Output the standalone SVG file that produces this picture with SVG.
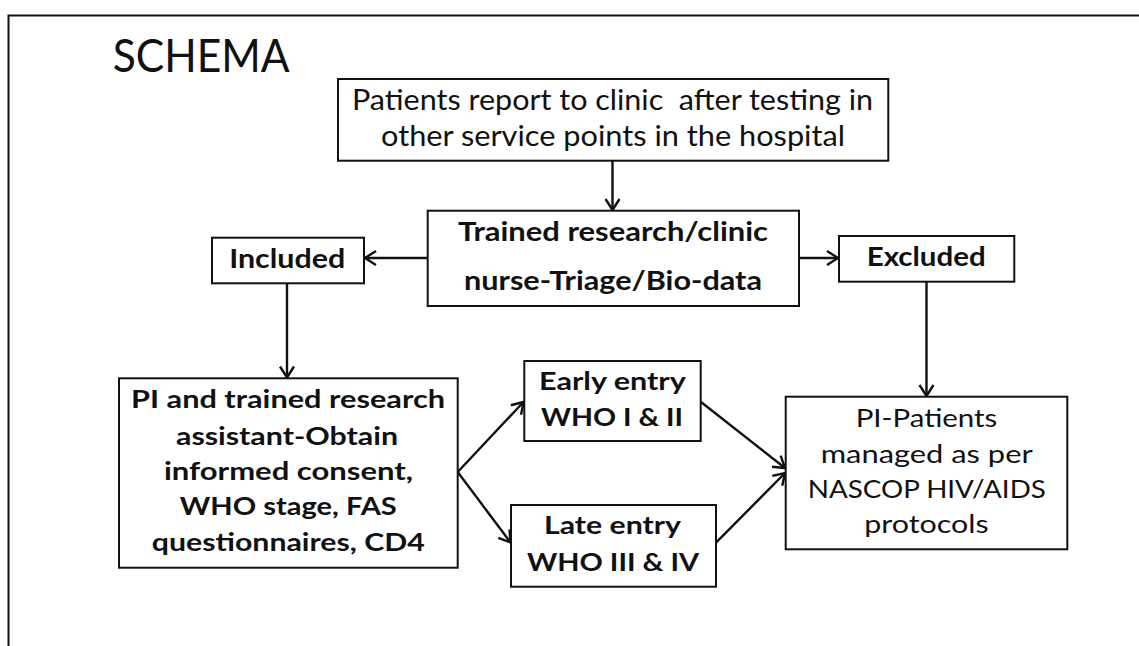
<svg xmlns="http://www.w3.org/2000/svg" width="1139" height="646" viewBox="0 0 1139 646">
  <style>
    .box { fill: #ffffff; stroke: #111111; stroke-width: 2; }
    .frame { fill: none; stroke: #111111; stroke-width: 2; }
    .edge { fill: none; stroke: #111111; stroke-width: 2.4; marker-end: url(#open-arrow); }
    text { font-family: Lato, "Open Sans", "Liberation Sans", sans-serif; fill: #111111; text-anchor: middle; }
    .reg { font-weight: 400; }
    .bold { font-weight: 700; }
    .t-title { font-size: 46px; text-anchor: start; }
    .t-top { font-size: 29px; }
    .t-mid { font-size: 27px; }
    .t-low { font-size: 24.5px; }
    .t-out { font-size: 25.5px; }
  </style>
  <defs>
    <marker id="open-arrow" markerUnits="userSpaceOnUse" markerWidth="18" markerHeight="18"
            viewBox="-14 -9 18 18" refX="0" refY="0" orient="auto">
      <path d="M-11,-7 L0,0 L-11,7" fill="none" stroke="#111111" stroke-width="2.4"/>
    </marker>
  </defs>

  <rect width="1139" height="646" fill="#ffffff"/>

  <!-- slide frame -->
  <path class="frame" d="M8.5,646 V15.5 H1139"/>

  <text class="reg t-title" x="112.7" y="71.7" textLength="177" lengthAdjust="spacingAndGlyphs">SCHEMA</text>

  <!-- connectors -->
  <g id="connectors">
    <line class="edge" x1="612.5" y1="160.7" x2="612.5" y2="210"/>
    <line class="edge" x1="427.7" y1="258" x2="365" y2="258"/>
    <line class="edge" x1="799" y1="258" x2="838" y2="258"/>
    <line class="edge" x1="287" y1="283.3" x2="287" y2="377.5"/>
    <line class="edge" x1="926.5" y1="281.7" x2="926.5" y2="396"/>
    <line class="edge" x1="457.7" y1="472" x2="523.5" y2="402"/>
    <line class="edge" x1="457.7" y1="472" x2="510.5" y2="542.5"/>
    <line class="edge" x1="701" y1="402" x2="785" y2="468"/>
    <line class="edge" x1="716" y1="542.7" x2="785" y2="473"/>
  </g>

  <g id="node-report">
    <rect class="box" x="338" y="79" width="550.3" height="81.7"/>
    <text class="reg t-top" x="612.5" y="110" xml:space="preserve" style="white-space: pre" textLength="521" lengthAdjust="spacingAndGlyphs">Patients report to clinic  after testing in</text>
    <text class="reg t-top" x="613" y="145.7" textLength="464" lengthAdjust="spacingAndGlyphs">other service points in the hospital</text>
  </g>

  <g id="node-triage">
    <rect class="box" x="427.7" y="210.7" width="371.3" height="95.3"/>
    <text class="bold t-mid" x="613" y="240.7" textLength="310" lengthAdjust="spacingAndGlyphs">Trained research/clinic</text>
    <text class="bold t-mid" x="613" y="290.3" textLength="298" lengthAdjust="spacingAndGlyphs">nurse-Triage/Bio-data</text>
  </g>

  <g id="node-included">
    <rect class="box" x="212" y="237.7" width="152" height="45.6"/>
    <text class="bold t-mid" x="287.2" y="267.7" textLength="116" lengthAdjust="spacingAndGlyphs">Included</text>
  </g>

  <g id="node-excluded">
    <rect class="box" x="839" y="236" width="175.3" height="45.7"/>
    <text class="bold t-mid" x="926.2" y="265.7" textLength="119" lengthAdjust="spacingAndGlyphs">Excluded</text>
  </g>

  <g id="node-consent">
    <rect class="box" x="119" y="378.3" width="338.7" height="189.4"/>
    <text class="bold t-low" x="288" y="408.3" textLength="314" lengthAdjust="spacingAndGlyphs">PI and trained research</text>
    <text class="bold t-low" x="287" y="445" textLength="222" lengthAdjust="spacingAndGlyphs">assistant-Obtain</text>
    <text class="bold t-low" x="288.5" y="480" textLength="249" lengthAdjust="spacingAndGlyphs">informed consent,</text>
    <text class="bold t-low" x="288.3" y="515" textLength="217" lengthAdjust="spacingAndGlyphs">WHO stage, FAS</text>
    <text class="bold t-low" x="288.3" y="550.7" textLength="273" lengthAdjust="spacingAndGlyphs">questionnaires, CD4</text>
  </g>

  <g id="node-early">
    <rect class="box" x="524.3" y="361" width="176.4" height="80"/>
    <text class="bold t-low" x="612.4" y="390" textLength="147" lengthAdjust="spacingAndGlyphs">Early entry</text>
    <text class="bold t-low" x="612" y="426" textLength="142" lengthAdjust="spacingAndGlyphs">WHO I &amp; II</text>
  </g>

  <g id="node-late">
    <rect class="box" x="511" y="505" width="205" height="81.7"/>
    <text class="bold t-low" x="612.5" y="534" textLength="137" lengthAdjust="spacingAndGlyphs">Late entry</text>
    <text class="bold t-low" x="613" y="570.7" textLength="172" lengthAdjust="spacingAndGlyphs">WHO III &amp; IV</text>
  </g>

  <g id="node-managed">
    <rect class="box" x="785.7" y="396.7" width="281.6" height="152.6"/>
    <text class="reg t-out" x="926.5" y="426.7" textLength="141.7" lengthAdjust="spacingAndGlyphs">PI-Patients</text>
    <text class="reg t-out" x="926.7" y="463.3" textLength="212" lengthAdjust="spacingAndGlyphs">managed as per</text>
    <text class="reg t-out" x="926.8" y="498.3" textLength="238" lengthAdjust="spacingAndGlyphs">NASCOP HIV/AIDS</text>
    <text class="reg t-out" x="926.5" y="533.3" textLength="124.4" lengthAdjust="spacingAndGlyphs">protocols</text>
  </g>
</svg>
